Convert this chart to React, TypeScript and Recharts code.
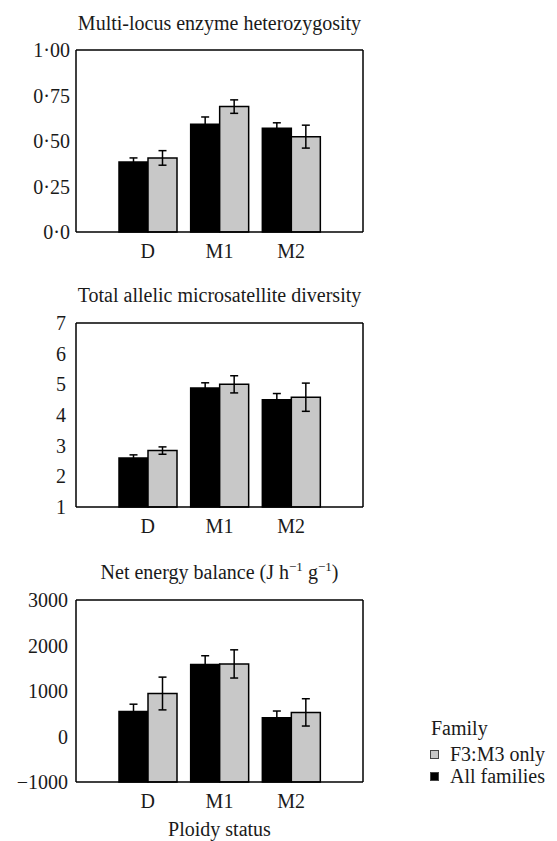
import React from 'react';
import { BarChart, Bar, XAxis, YAxis, ErrorBar } from 'recharts';

const categories = ['D', 'M1', 'M2'];

// Panel 1: Multi-locus enzyme heterozygosity
const hetAll = [0.385, 0.592, 0.57];
const hetAllErr = [0.022, 0.04, 0.03];
const hetF3 = [0.407, 0.689, 0.524];
const hetF3Err = [0.04, 0.037, 0.063];
const hetTicks = [0, 0.25, 0.5, 0.75, 1];
const hetTickLabels = ['0·0', '0·25', '0·50', '0·75', '1·00'];

// Panel 2: Total allelic microsatellite diversity
const allelAll = [2.6, 4.88, 4.5];
const allelAllErr = [0.1, 0.17, 0.2];
const allelF3 = [2.84, 5.0, 4.58];
const allelF3Err = [0.12, 0.28, 0.46];
const allelTicks = [1, 2, 3, 4, 5, 6, 7];
const allelTickLabels = ['1', '2', '3', '4', '5', '6', '7'];

// Panel 3: Net energy balance
const energyAll = [550, 1585, 410];
const energyAllErr = [160, 190, 150];
const energyF3 = [945, 1595, 530];
const energyF3Err = [360, 310, 300];
const energyTicks = [-1000, 0, 1000, 2000, 3000];
const energyTickLabels = ['−1000', '0', '1000', '2000', '3000'];

const seriesNames = ['All families', 'F3:M3 only'];
const legendTitle = 'Family';
const xAxisTitle = 'Ploidy status';

const FONT = '"Liberation Serif", "Times New Roman", serif';
const TEXT = '#1a1a1a';
const GRAY = '#c8c8c8';
const BLACK = '#000000';

function buildData(all: number[], allErr: number[], f3: number[], f3Err: number[]) {
  return categories.map((cat, i) => ({
    cat,
    all: all[i],
    allErr: allErr[i],
    f3: f3[i],
    f3Err: f3Err[i],
  }));
}

type PanelProps = {
  data: any[];
  ticks: number[];
  tickLabels: string[];
  title: React.ReactNode;
  top: number;
  height: number;
  titleTop: number;
  margin: { top: number; right: number; bottom: number; left: number };
  labelMargin: number;
};

function Panel({ data, ticks, tickLabels, title, top, height, titleTop, margin, labelMargin }: PanelProps) {
  const lo = ticks[0];
  const hi = ticks[ticks.length - 1];
  const fmt = (v: number) => {
    const idx = ticks.indexOf(v);
    return idx >= 0 ? tickLabels[idx] : String(v);
  };
  const axisLine = { stroke: BLACK, strokeWidth: 1.5 };
  const tickLine = { stroke: BLACK, strokeWidth: 1.5 };
  const tickStyle = { fontSize: 20, fontFamily: FONT, fill: TEXT };
  return (
    <>
      <div
        style={{
          position: 'absolute',
          left: 76,
          top: titleTop,
          width: 287,
          textAlign: 'center',
          fontSize: 20,
          lineHeight: '20px',
          fontFamily: FONT,
          color: TEXT,
          whiteSpace: 'nowrap',
        }}
      >
        {title}
      </div>
      <div style={{ position: 'absolute', left: 0, top, width: 400, height }}>
        <BarChart width={400} height={height} data={data} margin={margin} barGap={0} barSize={29}>
          <XAxis
            xAxisId="b"
            dataKey="cat"
            orientation="bottom"
            height={28}
            padding={{ left: 36, right: 36 }}
            axisLine={axisLine}
            tickLine={false}
            tickSize={0}
            tickMargin={12}
            tick={tickStyle}
            interval={0}
          />
          <XAxis
            xAxisId="t"
            dataKey="cat"
            orientation="top"
            mirror
            padding={{ left: 36, right: 36 }}
            axisLine={axisLine}
            tickLine={tickLine}
            tickSize={6}
            tick={false}
            interval={0}
          />
          <YAxis
            yAxisId="l"
            orientation="left"
            width={76}
            type="number"
            domain={[lo, hi]}
            ticks={ticks}
            interval={0}
            tickFormatter={fmt}
            axisLine={axisLine}
            tickLine={false}
            tickSize={0}
            tickMargin={labelMargin}
            tick={tickStyle}
          />
          <YAxis
            yAxisId="lm"
            orientation="left"
            mirror
            type="number"
            domain={[lo, hi]}
            ticks={ticks}
            interval={0}
            axisLine={false}
            tickLine={tickLine}
            tickSize={6}
            tick={false}
          />
          <YAxis
            yAxisId="r"
            orientation="right"
            mirror
            type="number"
            domain={[lo, hi]}
            ticks={ticks}
            interval={0}
            axisLine={axisLine}
            tickLine={tickLine}
            tickSize={6}
            tick={false}
          />
          <Bar
            xAxisId="b"
            yAxisId="l"
            name={seriesNames[0]}
            dataKey={(d: any) => [lo, d.all]}
            fill={BLACK}
            stroke={BLACK}
            strokeWidth={1.5}
            isAnimationActive={false}
          >
            <ErrorBar dataKey="allErr" width={4} stroke={BLACK} strokeWidth={1.5} isAnimationActive={false} />
          </Bar>
          <Bar
            xAxisId="b"
            yAxisId="l"
            name={seriesNames[1]}
            dataKey={(d: any) => [lo, d.f3]}
            fill={GRAY}
            stroke={BLACK}
            strokeWidth={1.5}
            isAnimationActive={false}
          >
            <ErrorBar dataKey="f3Err" width={4} stroke={BLACK} strokeWidth={1.5} isAnimationActive={false} />
          </Bar>
        </BarChart>
      </div>
    </>
  );
}

function LegendBox() {
  const itemStyle: React.CSSProperties = {
    display: 'flex',
    alignItems: 'center',
    height: 22,
    lineHeight: '22px',
  };
  const sq = (fill: string): React.CSSProperties => ({
    width: 7,
    height: 7,
    background: fill,
    border: '1px solid #444',
    marginRight: 11,
    marginLeft: 0,
    flex: 'none',
  });
  return (
    <div
      style={{
        position: 'absolute',
        left: 430,
        top: 718,
        fontFamily: FONT,
        fontSize: 20,
        color: TEXT,
        whiteSpace: 'nowrap',
      }}
    >
      <div style={{ lineHeight: '20px', marginLeft: 1, marginBottom: 5 }}>{legendTitle}</div>
      <div style={itemStyle}>
        <span style={sq(GRAY)} />
        <span>{seriesNames[1]}</span>
      </div>
      <div style={itemStyle}>
        <span style={sq(BLACK)} />
        <span>{seriesNames[0]}</span>
      </div>
    </div>
  );
}

export default function App() {
  const het = buildData(hetAll, hetAllErr, hetF3, hetF3Err);
  const allel = buildData(allelAll, allelAllErr, allelF3, allelF3Err);
  const energy = buildData(energyAll, energyAllErr, energyF3, energyF3Err);
  return (
    <div
      style={{
        position: 'absolute',
        left: 0,
        top: 0,
        width: 557,
        height: 841,
        background: '#ffffff',
        overflow: 'hidden',
        fontFamily: FONT,
      }}
    >
      <Panel
        data={het}
        ticks={hetTicks}
        tickLabels={hetTickLabels}
        title="Multi-locus enzyme heterozygosity"
        top={0}
        height={270}
        titleTop={13}
        margin={{ top: 50, right: 37, bottom: 10, left: 0 }}
        labelMargin={6}
      />
      <Panel
        data={allel}
        ticks={allelTicks}
        tickLabels={allelTickLabels}
        title="Total allelic microsatellite diversity"
        top={270}
        height={270}
        titleTop={285}
        margin={{ top: 53, right: 37, bottom: 5, left: 0 }}
        labelMargin={10}
      />
      <Panel
        data={energy}
        ticks={energyTicks}
        tickLabels={energyTickLabels}
        title={
          <span>
            Net energy balance (J h<sup style={{ fontSize: 13, verticalAlign: 'baseline', position: 'relative', top: -8 }}>−1</sup> g
            <sup style={{ fontSize: 13, verticalAlign: 'baseline', position: 'relative', top: -8 }}>−1</sup>)
          </span>
        }
        top={540}
        height={280}
        titleTop={562}
        margin={{ top: 60, right: 37, bottom: 10, left: 0 }}
        labelMargin={8}
      />
      <div
        style={{
          position: 'absolute',
          left: 76,
          top: 819,
          width: 287,
          textAlign: 'center',
          fontSize: 20,
          lineHeight: '20px',
          fontFamily: FONT,
          color: TEXT,
        }}
      >
        {xAxisTitle}
      </div>
      <LegendBox />
    </div>
  );
}
